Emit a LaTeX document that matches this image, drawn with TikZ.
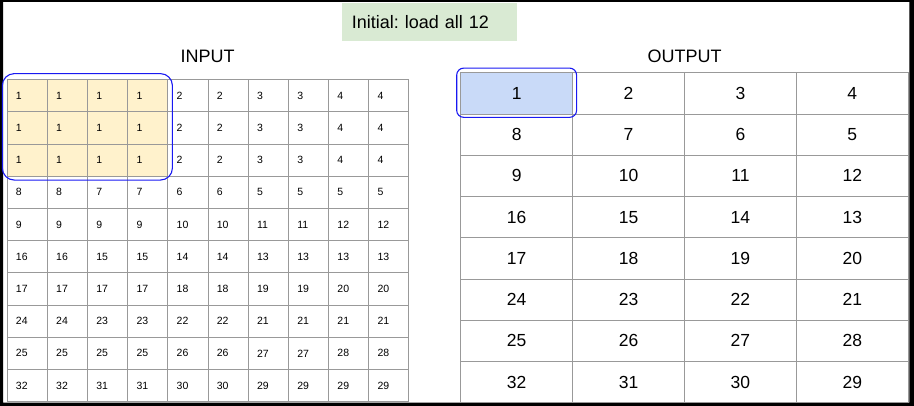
\documentclass[tikz,border=0pt]{standalone}
\usepackage{fontspec}
\setmainfont{Liberation Sans}
\usepackage{tikz}
\usetikzlibrary{positioning,fit,backgrounds}
\frenchspacing
\definecolor{gridgray}	{rgb}	{	0.60	,	0.60	,	0.60	}
\definecolor{hiyellow}	{rgb}	{	1.00	,	0.949	,	0.80	}
\definecolor{hiblue}	{rgb}	{	0.788	,	0.855	,	0.973	}
\definecolor{notegreen}	{rgb}	{	0.851	,	0.918	,	0.827	}
\definecolor{winblue}	{rgb}	{	0.10	,	0.10	,	0.95	}

\begin{document}
\begin{tikzpicture}[x=1pt, y=-1pt,
    incell/.style={draw=gridgray, line width=0.8pt, inner xsep=9pt, inner ysep=0pt,
                   text width=22.18pt, minimum height=32.22pt, align=left,
                   font=\fontsize{10.5}{12}\selectfont},
    outcell/.style={draw=gridgray, line width=0.8pt, inner sep=0pt,
                    minimum width=111.9pt, minimum height=41.25pt,
                    font=\fontsize{17.5}{20}\selectfont},
    title/.style={font=\fontsize{18}{21}\selectfont},
    note/.style={fill=notegreen, inner xsep=10pt, inner ysep=0pt, text width=154.7pt,
                 minimum height=38.3pt, align=left, font=\fontsize{18}{21}\selectfont},
    window/.style={draw=winblue, line width=1.1pt}
  ]
  \useasboundingbox (0,0) rectangle (914,406);
  \fill[black, even odd rule] (0,0) rectangle (914,406) (3,2) rectangle (909.3,402.6);

  \node[note] (note) at (429.3,21.9) {Initial: load all 12};
  \node[title] (inlabel) at (207.5,56) {INPUT};
  \node[title] (outlabel) at (684.5,56) {OUTPUT};

  \foreach \line [count=\r] in {{1,1,1,1,2,2,3,3,4,4},{1,1,1,1,2,2,3,3,4,4},
      {1,1,1,1,2,2,3,3,4,4},{8,8,7,7,6,6,5,5,5,5},{9,9,9,9,10,10,11,11,12,12},
      {16,16,15,15,14,14,13,13,13,13},{17,17,17,17,18,18,19,19,20,20},
      {24,24,23,23,22,22,21,21,21,21},{25,25,25,25,26,26,27,27,28,28},
      {32,32,31,31,30,30,29,29,29,29}}
    \foreach \v [count=\c] in \line
      \node[incell] (in-\r-\c) at ({7+40.18*(\c-0.5)}, {79.5+32.22*(\r-0.5)}) {\v};

  \foreach \line [count=\r] in {{1,2,3,4},{8,7,6,5},{9,10,11,12},{16,15,14,13},
      {17,18,19,20},{24,23,22,21},{25,26,27,28},{32,31,30,29}}
    \foreach \v [count=\c] in \line
      \node[outcell] (out-\r-\c) at ({460.7+111.9*(\c-0.5)}, {72.7+41.25*(\r-0.5)}) {\v};

  \begin{scope}[on background layer]
    \fill[hiyellow] (in-1-1.north west) rectangle (in-3-4.south east);
    \fill[hiblue] (out-1-1.north west) rectangle (out-1-1.south east);
  \end{scope}

  \node[window, rounded corners=12pt, fit=(in-1-1)(in-3-4), inner xsep=4.3pt, inner ysep=4.5pt, yshift=1pt] (inwin) {};
  \node[window, rounded corners=7pt, fit=(out-1-1), inner xsep=3.6pt, inner ysep=3.6pt, yshift=0.6pt] (outwin) {};
\end{tikzpicture}
\end{document}
